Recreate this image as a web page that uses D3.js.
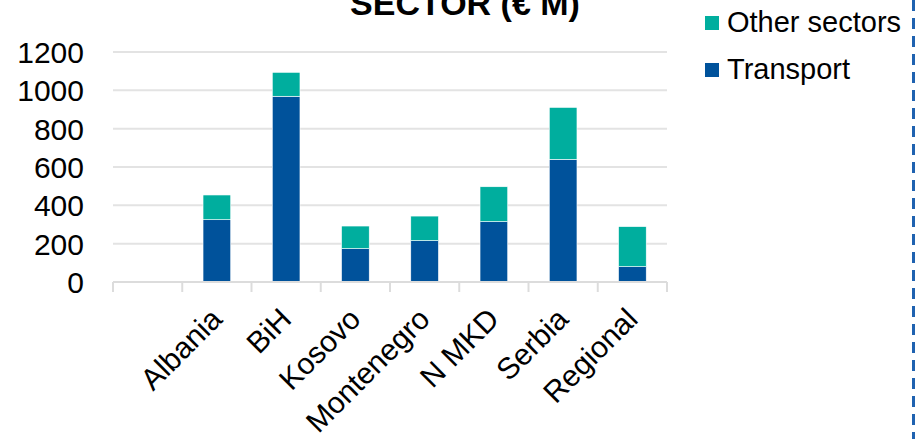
<!DOCTYPE html>
<html>
<head>
<meta charset="utf-8">
<script src="https://cdn.jsdelivr.net/npm/d3@7"></script>
<style>
  body { margin: 0; background: #fff; }
  text { font-family: "Liberation Sans", Arial, sans-serif; }
</style>
</head>
<body>
<div class="chart"></div>
<script>
// values in € M
const countries = ["", "Albania", "BiH", "Kosovo", "Montenegro", "N MKD", "Serbia", "Regional"];
const transport = [0, 325, 969, 174, 216, 315, 640, 80];
const otherSectors = [0, 129, 125, 118, 128, 182, 271, 209];
const yTicks = [0, 200, 400, 600, 800, 1000, 1200];

const seriesNames = ["Other sectors", "Transport"];
const colors = {"Transport": "#00529b", "Other sectors": "#00ae9e"};

const width = 916;
const height = 439;

const svg = d3.select('.chart')
    .append('svg')
    .attr('width', width)
    .attr('height', height);

const x = d3.scaleBand()
    .domain(countries)
    .range([113, 667])
    .paddingInner(0.6)
    .paddingOuter(0.3);

const y = d3.scaleLinear()
    .domain([0, 1200])
    .range([282, 52]);

const step = x.step();

// gridlines
svg.selectAll(".grid")
    .data(yTicks.filter(d => d > 0))
    .enter()
    .append("line")
    .attr("x1", 113)
    .attr("x2", 667)
    .attr("y1", d => y(d))
    .attr("y2", d => y(d))
    .attr("stroke", "#e3e3e3")
    .attr("stroke-width", 2);

// y labels
svg.selectAll(".ylab")
    .data(yTicks)
    .enter()
    .append("text")
    .text(d => d)
    .attr("x", 84)
    .attr("y", d => y(d) + 11)
    .attr("text-anchor", "end")
    .attr("font-size", 30)
    .attr("fill", "#000");

// stacked bars
const rows = countries.map((c, i) => ({country: c, "Transport": transport[i], "Other sectors": otherSectors[i]}));
const stack = d3.stack().keys(["Transport", "Other sectors"]);
const layers = stack(rows);

svg.selectAll(".layer")
    .data(layers)
    .enter()
    .append("g")
    .attr("fill", d => colors[d.key])
    .selectAll("rect")
    .data(d => d.filter(v => v[1] > v[0]))
    .enter()
    .append("rect")
    .attr("x", d => x(d.data.country))
    .attr("width", x.bandwidth())
    .attr("y", d => y(d[1]))
    .attr("height", d => y(d[0]) - y(d[1]))
    .attr("stroke", "#ffffff")
    .attr("stroke-width", 0.6);

// x axis line + ticks
svg.append("line")
    .attr("x1", 113).attr("x2", 667)
    .attr("y1", y(0)).attr("y2", y(0))
    .attr("stroke", "#dcdcdc")
    .attr("stroke-width", 2);

const tickPos = countries.map(c => x(c) + x.bandwidth() / 2 - step / 2);
tickPos.push(tickPos[tickPos.length - 1] + step);
svg.selectAll(".xtick")
    .data(tickPos)
    .enter()
    .append("line")
    .attr("x1", d => d).attr("x2", d => d)
    .attr("y1", y(0)).attr("y2", y(0) + 10)
    .attr("stroke", "#dcdcdc")
    .attr("stroke-width", 2);

// rotated category labels
svg.selectAll(".xlab")
    .data(countries.filter(c => c !== ""))
    .enter()
    .append("text")
    .text(d => d)
    .attr("text-anchor", "end")
    .attr("font-size", 30)
    .attr("transform", d => "translate(" + (x(d) + x.bandwidth() / 2 + 7) + "," + 321 + ") rotate(-45)");

// title (cut at top like the original)
svg.append("text")
    .text("SECTOR (€ M)")
    .attr("x", 465)
    .attr("y", 15)
    .attr("text-anchor", "middle")
    .attr("font-size", 34)
    .attr("font-weight", "bold");

// legend
const legend = svg.selectAll(".legend")
    .data(seriesNames)
    .enter()
    .append("g")
    .attr("transform", (d, i) => "translate(705," + (16 + i * 47) + ")");

legend.append("rect")
    .attr("width", 14)
    .attr("height", 14)
    .attr("fill", d => colors[d]);

legend.append("text")
    .text(d => d)
    .attr("x", 22)
    .attr("y", 16)
    .attr("font-size", 29);

// dashed frame edge on the right
svg.append("line")
    .attr("x1", 913.5).attr("x2", 913.5)
    .attr("y1", 0).attr("y2", height)
    .attr("stroke", "#1f62b0")
    .attr("stroke-width", 3)
    .attr("stroke-dasharray", "11,7");
</script>
</body>
</html>
